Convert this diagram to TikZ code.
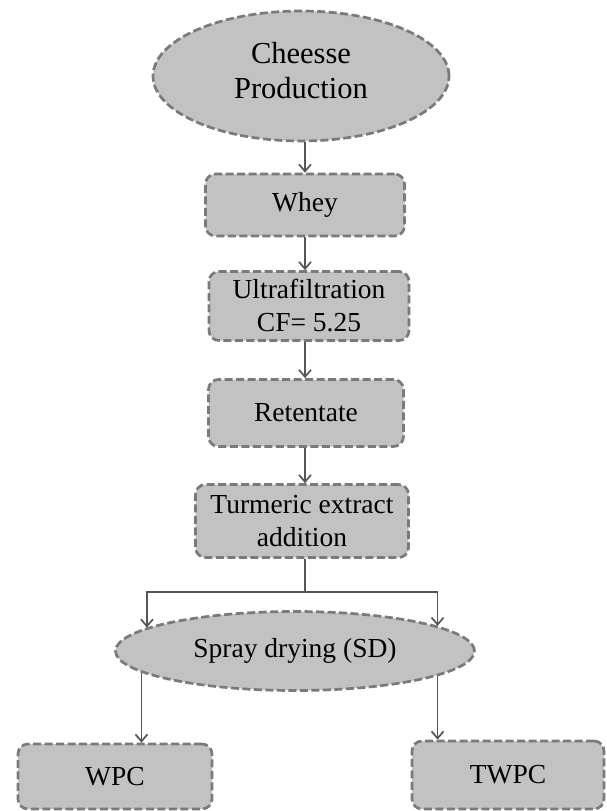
\documentclass[tikz,border=0pt]{standalone}
\usepackage{fontspec}
\setmainfont{Liberation Serif}
\usepackage{xcolor}
\usetikzlibrary{shapes.geometric,arrows.meta}
\definecolor{boxfill}{HTML}{C2C2C2}
\definecolor{boxline}{HTML}{7A7A7A}
\definecolor{arrowline}{HTML}{555555}
\tikzset{
  box/.style={draw=boxline,fill=boxfill,line width=2.7pt,dash pattern=on 8pt off 3.5pt,
    rounded corners=10pt,align=center,inner sep=0pt},
  oval/.style={ellipse,draw=boxline,fill=boxfill,line width=2.7pt,dash pattern=on 8pt off 3.5pt,
    align=center,inner sep=0pt},
  flow/.style={draw=arrowline,line width=1.7pt,-{Straight Barb[length=7pt,width=12pt]}},
  txt/.style={font=\fontsize{27.5}{33}\selectfont}
}
\begin{document}
\begin{tikzpicture}[x=1pt,y=-1pt]
\useasboundingbox (0,0) rectangle (606,811);
%\draw[step=50,black!20] (0,0) grid (606,811);

\node[oval,minimum width=296pt,minimum height=130pt,text depth=11pt,font=\fontsize{30.5}{35}\selectfont] (cheese) at (301,76) {Cheesse\\Production};
\node[box,txt,minimum width=199pt,minimum height=62pt] (whey) at (305,205) {Whey};
\node[box,txt,minimum width=200pt,minimum height=69pt] (ultra) at (309,306) {Ultrafiltration\\CF= 5.25};
\node[box,txt,minimum width=195pt,minimum height=67pt] (retentate) at (306,413) {Retentate};
\node[box,txt,minimum width=213pt,minimum height=73pt] (turmeric) at (302,521) {Turmeric extract\\addition};
\node[oval,txt,minimum width=359pt,minimum height=79pt] (spray) at (295,651) {Spray drying (SD)};
\node[box,txt,minimum width=194pt,minimum height=65pt] (wpc) at (115,776.5) {WPC};
\node[box,txt,minimum width=192pt,minimum height=68pt] (twpc) at (508,775) {TWPC};

\coordinate (split) at (305,592);

\draw[flow] (cheese.south -| whey.north) -- (whey.north);
\draw[flow] (whey.south) -- (whey.south |- ultra.north);
\draw[flow] (whey.south |- ultra.south) -- (whey.south |- retentate.north);
\draw[flow] (whey.south |- retentate.south) -- (whey.south |- turmeric.north);
\draw[draw=arrowline,line width=1.7pt] (whey.south |- turmeric.south) -- (split);
\draw[flow] (split) -| (spray.171.8);
\draw[flow] (split) -| (spray.10.2);
\draw[flow] (spray.188.2) -- (spray.188.2 |- wpc.north);
\draw[flow] (spray.-10.2) -- (spray.-10.2 |- twpc.north);

\end{tikzpicture}
\end{document}
